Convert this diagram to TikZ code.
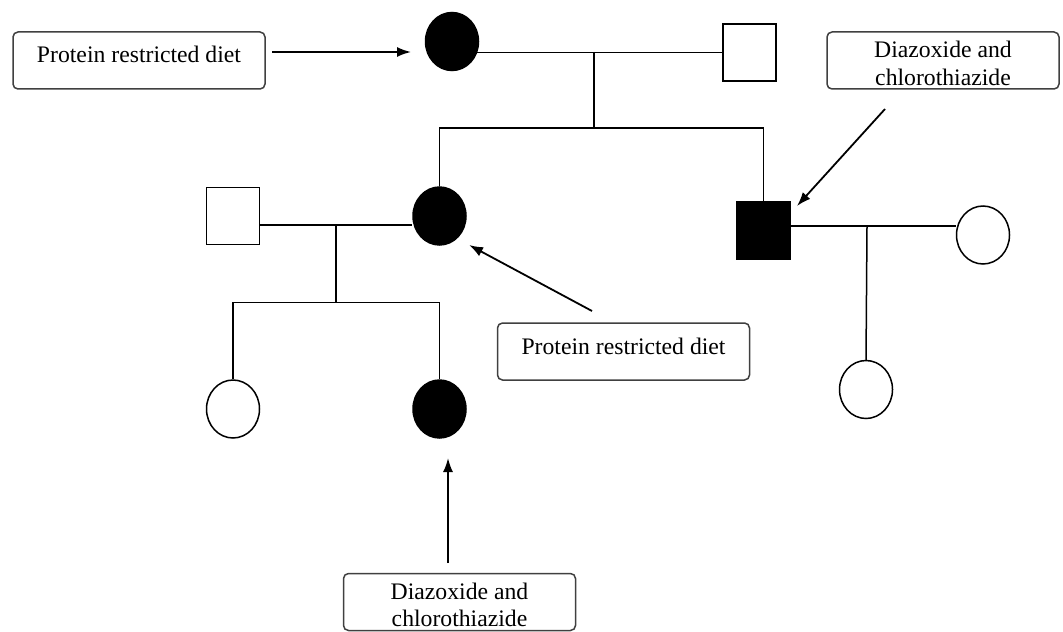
\documentclass[tikz,border=0pt]{standalone}
\usepackage{fontspec}
\setmainfont{Liberation Serif}
\usetikzlibrary{shapes.geometric,arrows.meta}

\tikzset{
  lin/.style={line width=0.75pt, draw=black},
  arr/.style={line width=0.9pt, -{Latex[length=7pt,width=5pt]}},
  fem/.style={ellipse, draw=black, line width=0.75pt, fill=white,
              minimum width=26.5pt, minimum height=29pt, inner sep=0pt},
  femA/.style={fem, fill=black},
  mal/.style={rectangle, draw=black, line width=0.75pt, fill=white,
              minimum width=26.5pt, minimum height=28.5pt, inner sep=0pt},
  malA/.style={mal, fill=black},
  notebox/.style={rectangle, rounded corners=2.5pt, draw=black!75, line width=0.75pt,
              inner xsep=0pt, inner ysep=0pt, align=center,
              font=\fontsize{11.85}{13.5}\selectfont},
  onebox/.style={notebox, minimum width=126pt, text height=15.5pt, text depth=13pt},
  twobox/.style={notebox, minimum width=116pt, text height=26.5pt, text depth=2pt}
}

\begin{document}
\begin{tikzpicture}[x=0.5pt, y=-0.5pt]
  \clip (0,0) rectangle (1063,631);
  \fill[white] (0,0) rectangle (1063,631);

  % generation I
  \node[femA] (gm) at (452,41.5) {};
  \node[mal]  (gf) at (749.5,52.5) {};
  % generation II
  \node[femA] (mo) at (439.5,216) {};
  \node[malA] (un) at (763.5,230.5) {};
  \node[mal]  (fa) at (233,216) {};
  \node[fem]  (aw) at (983,235) {};
  % generation III
  \node[fem]  (d1) at (233,409) {};
  \node[femA] (d2) at (439.5,409) {};
  \node[fem]  (cz) at (866,389.5) {};

  % helper points on marriage and sibship lines
  \coordinate (m1) at (594,52);
  \coordinate (s1) at (594,128);
  \coordinate (m2) at (336,225);
  \coordinate (s2) at (336,302.5);
  \coordinate (m3) at (867,226);

  % marriage lines
  \draw[lin] (gm.-23) -- (gm.-23 -| gf.west);
  \draw[lin] (fa.east |- m2) -- (m2) -- (m2 -| mo.west);
  \draw[lin] (un.east |- m3) -- (m3) -- (m3 -| aw.west);

  % descent lines
  \draw[lin] (m1) -- (s1);
  \draw[lin] (mo.north) |- (s1) -| (un.north);
  \draw[lin] (m2) -- (s2);
  \draw[lin] (d1.north) |- (s2) -| (d2.north);
  \draw[lin] (m3) -- (cz.north);

  % treatment notes
  \node[onebox] (n1) at (139,60.5) {Protein restricted diet};
  \node[onebox] (n2) at (623.5,351.5) {Protein restricted diet};
  \node[twobox] (n3) at (943,60.5) {Diazoxide and\\chlorothiazide};
  \node[twobox] (n4) at (459.5,602) {Diazoxide and\\chlorothiazide};

  % arrows from notes
  \coordinate (a1s) at (272,52);
  \coordinate (a1e) at (411,52);
  \coordinate (a2s) at (885,109);
  \coordinate (a2e) at (797,206);
  \coordinate (a3s) at (592,311);
  \coordinate (a3e) at (469,245);
  \coordinate (a4s) at (448,563);
  \coordinate (a4e) at (448,458);
  \draw[arr] (a1s) -- (a1e);
  \draw[arr] (a2s) -- (a2e);
  \draw[arr] (a3s) -- (a3e);
  \draw[arr] (a4s) -- (a4e);
\end{tikzpicture}
\end{document}
